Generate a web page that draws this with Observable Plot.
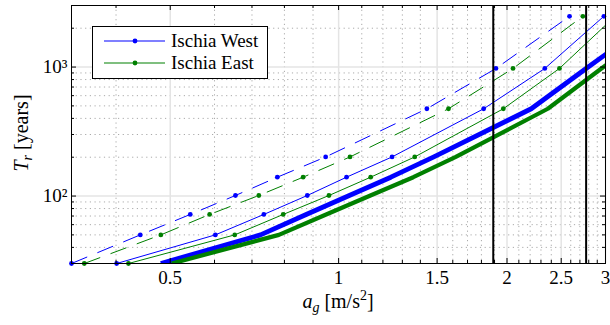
<!DOCTYPE html>
<html>
<head>
<meta charset="utf-8">
<script src="https://cdn.jsdelivr.net/npm/d3@7"></script>
<script src="https://cdn.jsdelivr.net/npm/@observablehq/plot@0.6"></script>
<style>
  html, body { margin: 0; padding: 0; background: #fff; }
  #chart svg text { font-family: "Liberation Serif", "DejaVu Serif", serif !important; }
</style>
</head>
<body>
<div id="chart"></div>
<script>
// Return periods (years) at which each curve is sampled
const returnPeriods = [30, 50, 72, 101, 140, 201, 475, 975, 2475];

// a_g [m/s^2] per return period, for each curve
const westDashed = [0.333, 0.442, 0.543, 0.654, 0.777, 0.948, 1.438, 1.911, 2.587];
const westThin   = [0.401, 0.602, 0.735, 0.879, 1.033, 1.246, 1.817, 2.337, 2.98];
const westThick  = [0.481, 0.725, 0.875, 1.045, 1.24, 1.48, 2.21, 2.77, 3.73];
const eastDashed = [0.351, 0.481, 0.588, 0.720, 0.864, 1.048, 1.572, 2.05, 2.733];
const eastThin   = [0.421, 0.652, 0.796, 0.961, 1.141, 1.368, 1.97, 2.482, 3.12];
const eastThick  = [0.503, 0.782, 0.95, 1.14, 1.36, 1.62, 2.366, 2.95, 3.95];

// Vertical reference lines
const refLines = [1.89, 2.77];

// Legend
const legendNames = ["Ischia West", "Ischia East"];

// Ticks
const xMajor = [0.5, 1, 1.5, 2, 2.5, 3];
const xMinor = [0.4, 0.6, 0.7, 0.8, 0.9, 1.1, 1.2, 1.3, 1.4, 1.6, 1.7, 1.8, 1.9, 2.1, 2.2, 2.3, 2.4, 2.6, 2.7, 2.8, 2.9];
const yMajor = [100, 1000];
const yMajorLabels = ["10²", "10³"];
const yMinor = [40, 50, 60, 70, 80, 90, 200, 300, 400, 500, 600, 700, 800, 900, 2000, 3000];

const BLUE = "#0000ff", GREEN = "#008000";
const xDomain = [0.333, 3];

const toRows = (xs) => xs.map((x, i) => ({x, y: returnPeriods[i]}));
const inDomain = (rows) => rows.filter(d => d.x >= xDomain[0] - 1e-9 && d.x <= xDomain[1] + 1e-9);

const series = [
  {xs: westDashed, color: BLUE, w: 1, dash: "17,11", dots: true},
  {xs: westThin, color: BLUE, w: 1, dash: null, dots: true},
  {xs: westThick, color: BLUE, w: 4.8, dash: null, dots: false},
  {xs: eastDashed, color: GREEN, w: 1, dash: "17,11", dots: true},
  {xs: eastThin, color: GREEN, w: 1, dash: null, dots: true},
  {xs: eastThick, color: GREEN, w: 4.2, dash: null, dots: false}
];

const W = 610, H = 325, mL = 71, mR = 5, mT = 5, mB = 62;
const pw = W - mL - mR, ph = H - mT - mB;

const lineMarks = [];
for (const s of series) {
  const rows = toRows(s.xs);
  lineMarks.push(Plot.line(rows, {x: "x", y: "y", stroke: s.color, strokeWidth: s.w,
    strokeDasharray: s.dash ?? undefined, clip: true, strokeLinejoin: "round", strokeLinecap: "butt"}));
  if (s.dots) lineMarks.push(Plot.dot(inDomain(rows), {x: "x", y: "y", r: 2.4, fill: s.color, stroke: "none"}));
}

const svg = Plot.plot({
  width: W, height: H,
  marginLeft: mL, marginRight: mR, marginTop: mT, marginBottom: mB,
  style: {fontFamily: "Liberation Serif", fontSize: "19px", color: "black", background: "white"},
  x: {type: "log", domain: xDomain},
  y: {type: "log", domain: [30, 3000]},
  marks: [
    Plot.gridX(xMinor, {stroke: "#aaa", strokeOpacity: 1, strokeDasharray: "1.2,3.5"}),
    Plot.gridY(yMinor, {stroke: "#aaa", strokeOpacity: 1, strokeDasharray: "1.2,3.5"}),
    Plot.gridX(xMajor, {stroke: "#e4e4e4", strokeOpacity: 1, strokeWidth: 1.5}),
    Plot.gridY(yMajor, {stroke: "#e4e4e4", strokeOpacity: 1, strokeWidth: 1.5}),
    ...lineMarks,
    Plot.ruleX(refLines, {stroke: "black", strokeWidth: 2}),
    Plot.frame({stroke: "black", strokeWidth: 1}),
    // inward ticks
    Plot.tickX(xMajor, {x: d => d, insetTop: ph - 5, stroke: "black"}),
    Plot.tickX(xMajor, {x: d => d, insetBottom: ph - 5, stroke: "black"}),
    Plot.tickX(xMinor, {x: d => d, insetTop: ph - 3, stroke: "black"}),
    Plot.tickX(xMinor, {x: d => d, insetBottom: ph - 3, stroke: "black"}),
    Plot.tickY(yMajor, {y: d => d, insetRight: pw - 5, stroke: "black"}),
    Plot.tickY(yMajor, {y: d => d, insetLeft: pw - 5, stroke: "black"}),
    Plot.tickY(yMinor, {y: d => d, insetRight: pw - 3, stroke: "black"}),
    Plot.tickY(yMinor, {y: d => d, insetLeft: pw - 3, stroke: "black"}),
    Plot.axisX(xMajor, {tickSize: 0, tickPadding: 7, label: null, fontSize: 19, tickFormat: d => String(d)}),
    Plot.axisY(yMajor, {tickSize: 0, tickPadding: 4, label: null, fontSize: 19, tickFormat: d => yMajorLabels[yMajor.indexOf(d)]})
  ]
});

document.getElementById("chart").appendChild(svg);

const g = d3.select(svg);
const ff = "Liberation Serif";

// x axis title: a_g [m/s^2]
const xt = g.append("text").attr("x", mL + pw / 2 + 0).attr("y", 308)
  .attr("text-anchor", "middle").attr("font-family", ff).attr("font-size", 20).attr("fill", "black");
xt.append("tspan").attr("font-style", "italic").text("a");
xt.append("tspan").attr("font-style", "italic").attr("font-size", 14).attr("dy", 4).text("g");
xt.append("tspan").attr("dy", -4).text(" [m/s");
xt.append("tspan").attr("font-size", 14).attr("dy", -8).text("2");
xt.append("tspan").attr("dy", 8).text("]");

// y axis title: T_r [years]
const yt = g.append("text").attr("transform", `translate(28,${133}) rotate(-90)`)
  .attr("text-anchor", "middle").attr("font-family", ff).attr("font-size", 20).attr("fill", "black");
yt.append("tspan").attr("font-style", "italic").text("T");
yt.append("tspan").attr("font-style", "italic").attr("font-size", 14).attr("dy", 4).text("r");
yt.append("tspan").attr("dy", -4).text(" [years]");

// legend
const lg = g.append("g");
lg.append("rect").attr("x", 92.5).attr("y", 26.5).attr("width", 175).attr("height", 52)
  .attr("fill", "white").attr("stroke", "black").attr("stroke-width", 1);
[[BLUE, 41], [GREEN, 63]].forEach(([c, yy], i) => {
  lg.append("line").attr("x1", 104).attr("x2", 165).attr("y1", yy).attr("y2", yy)
    .attr("stroke", c).attr("stroke-width", 1.2);
  lg.append("circle").attr("cx", 135).attr("cy", yy).attr("r", 2.4).attr("fill", c);
  lg.append("text").attr("x", 171).attr("y", yy + 6).attr("text-anchor", "start").attr("font-family", ff)
    .attr("font-size", 19).attr("fill", "black").text(legendNames[i]);
});
</script>
</body>
</html>
